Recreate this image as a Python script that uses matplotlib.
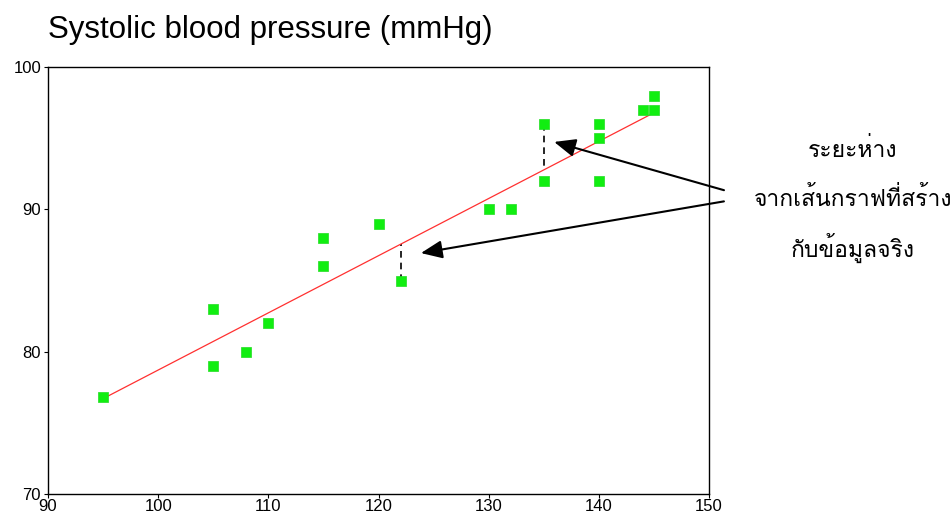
import numpy as np
import matplotlib
matplotlib.use('Agg')
import matplotlib.pyplot as plt
from matplotlib import font_manager
from fontTools.ttLib import TTFont

# data
age = [95, 105, 105, 108, 110, 115, 115, 120, 122, 130, 132,
       135, 135, 140, 140, 140, 144, 145, 145]
sbp = [76.8, 83, 79, 80, 82, 88, 86, 89, 85, 90, 90,
       96, 92, 96, 95, 92, 97, 97, 98]
fit_x = [95, 145]
fit_y = [76.7, 96.8]
resid_x = [122, 135]
resid_y = [85, 96]
thai_lines = ['ระยะห่าง', 'จากเส้นกราฟที่สร้าง', 'กับข้อมูลจริง']


def find_thai_font():
    for f in font_manager.fontManager.ttflist:
        try:
            cmap = TTFont(f.fname, fontNumber=0, lazy=True).getBestCmap()
        except Exception:
            continue
        if cmap and ord('ร') in cmap:
            return f.name
    return None


thai_font = find_thai_font()
thai_family = [thai_font, 'DejaVu Sans'] if thai_font else ['DejaVu Sans']

plt.rcParams['font.family'] = ['Liberation Sans', 'DejaVu Sans']

fig = plt.figure(figsize=(9.53, 5.21), dpi=100)
ax = fig.add_axes([0.0504, 0.052, 0.6936, 0.819])

ax.plot(fit_x, fit_y, color='#ff3030', lw=0.9, zorder=2)
fit_at = np.interp(resid_x, fit_x, fit_y)
for x, y, f in zip(resid_x, resid_y, fit_at):
    ax.plot([x, x], [y, f], color='black', lw=1.2, ls=(0, (4, 3)), zorder=1)
ax.scatter(age, sbp, marker='s', s=55, color='#11ee11', edgecolors='#22dd22',
           linewidths=0.5, zorder=3)

ax.set_xlim(90, 150)
ax.set_ylim(70, 100)
ax.set_xticks(range(90, 151, 10))
ax.set_yticks([70, 80, 90, 100])
ax.tick_params(direction='out', length=3, width=0.8, labelsize=12, pad=2)
ax.tick_params(axis='x', pad=1)
for s in ax.spines.values():
    s.set_linewidth(1.0)

fig.text(0.05, 0.942, 'Systolic blood pressure (mmHg)', fontsize=22.5,
         ha='left', va='center')

# arrows from the Thai note to the residuals
arrow_kw = dict(arrowstyle='-|>,head_length=1.3,head_width=0.55',
                color='black', lw=1.5)
ax.annotate('', xy=(135.7, 94.8), xytext=(151.6, 91.3),
            arrowprops=arrow_kw, annotation_clip=False)
ax.annotate('', xy=(123.6, 86.9), xytext=(151.6, 90.6),
            arrowprops=arrow_kw, annotation_clip=False)

for i, line in enumerate(thai_lines):
    fig.text(0.895, 0.712 - i * 0.094, line, fontsize=16.5, ha='center',
             va='center', family=thai_family)

fig.savefig('out.png', dpi=100)
